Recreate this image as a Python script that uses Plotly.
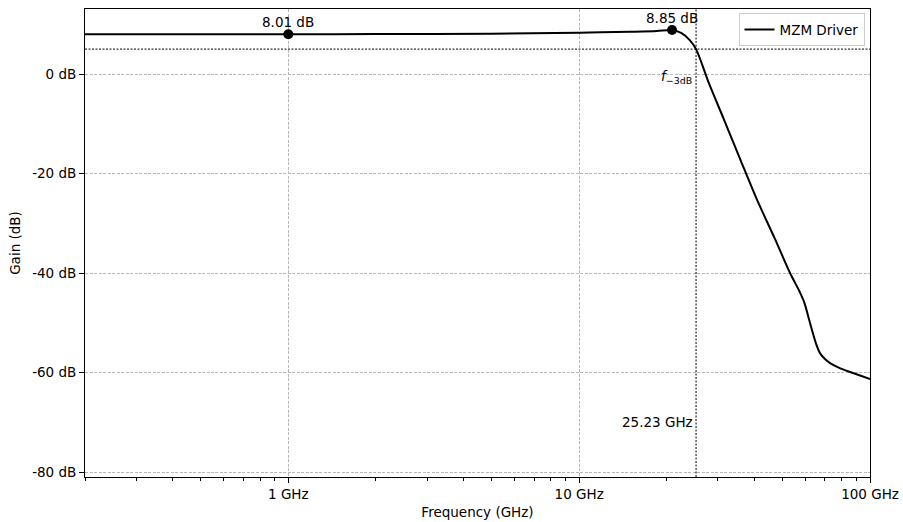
import numpy as np
import plotly.graph_objects as go

# Frequency response of MZM driver
freq_ghz = [0.2, 0.5, 1.0, 2.0, 5.0, 10.0, 15.0, 18.5, 20.87, 22.5, 24.0, 25.23, 28.0, 31.5, 36.0, 40.9, 47.0, 53.1, 57.0, 59.5, 61.5, 63.2, 65.5, 67.3, 70.0, 72.9, 78.0, 85.4, 100.0]
gain_db = [8.0, 8.0, 8.01, 8.03, 8.12, 8.3, 8.5, 8.65, 8.85, 8.2, 6.8, 5.01, -2.0, -9.2, -17.5, -25.3, -33.0, -40.0, -43.5, -46.0, -49.0, -51.5, -54.5, -56.1, -57.3, -58.1, -59.0, -59.9, -61.3]

marker_freq = [1.0, 20.87]
marker_gain = [8.01, 8.85]
marker_labels = ["8.01 dB", "8.85 dB"]

f3db = 25.23
level_3db = 5.01

x_tick_vals = [1, 10, 100]
x_tick_text = ["1 GHz", "10 GHz", "100 GHz"]
y_tick_vals = [0, -20, -40, -60, -80]
y_tick_text = ["0 dB", "-20 dB", "-40 dB", "-60 dB", "-80 dB"]

x_range = [0.2, 100.0]
y_range = [-81.0, 13.07]

FONT = "DejaVu Sans"
FS = 13.5

fig = go.Figure()

# reference lines
fig.add_trace(go.Scatter(x=x_range, y=[level_3db, level_3db], mode="lines",
                         line=dict(color="black", width=1, dash="2px,1.5px"),
                         showlegend=False, hoverinfo="skip"))
fig.add_trace(go.Scatter(x=[f3db, f3db], y=y_range, mode="lines",
                         line=dict(color="black", width=1, dash="2px,1.5px"),
                         showlegend=False, hoverinfo="skip"))

fig.add_trace(go.Scatter(x=freq_ghz, y=gain_db, mode="lines", name="MZM Driver",
                         line=dict(color="black", width=2, shape="spline", smoothing=0.8)))

fig.add_trace(go.Scatter(x=marker_freq, y=marker_gain, mode="markers",
                         marker=dict(color="black", size=10),
                         showlegend=False, hoverinfo="skip"))

annotations = []
label_y = [10.45, 11.26]
for fx, ly, txt in zip(marker_freq, label_y, marker_labels):
    annotations.append(dict(x=np.log10(fx), y=ly, text=txt, showarrow=False,
                            xanchor="center", yanchor="middle",
                            font=dict(family=FONT, size=FS, color="black")))
annotations.append(dict(x=np.log10(f3db), y=-0.6, text="<i>f</i><sub>−3dB</sub>",
                        showarrow=False, xanchor="right", yanchor="middle", xshift=-2,
                        font=dict(family=FONT, size=FS, color="black")))
annotations.append(dict(x=np.log10(f3db), y=-70.0, text="25.23 GHz",
                        showarrow=False, xanchor="right", yanchor="middle", xshift=-1,
                        font=dict(family=FONT, size=FS, color="black")))

fig.update_layout(
    width=903, height=522,
    margin=dict(l=85, r=33, t=9, b=45, autoexpand=False),
    paper_bgcolor="white", plot_bgcolor="white",
    font=dict(family=FONT, size=FS, color="black"),
    annotations=annotations,
    legend=dict(x=0.993, y=0.991, xanchor="right", yanchor="top",
                bgcolor="white", bordercolor="#cccccc", borderwidth=1,
                font=dict(family=FONT, size=FS)),
    xaxis=dict(type="log", range=[np.log10(x_range[0]), np.log10(x_range[1])],
               tickvals=x_tick_vals, ticktext=x_tick_text, automargin=False,
               showline=True, linecolor="black", linewidth=1, mirror=True,
               ticks="outside", ticklen=5, tickcolor="black",
               showgrid=True, gridcolor="#b8b8b8", gridwidth=0.8, griddash="3px,1.5px",
               zeroline=False,
               minor=dict(ticks="outside", ticklen=3, tickcolor="black", dtick="D1", showgrid=False),
               title=dict(text="Frequency (GHz)", font=dict(family=FONT, size=FS), standoff=6)),
    yaxis=dict(range=y_range, tickvals=y_tick_vals, ticktext=y_tick_text, automargin=False,
               showline=True, linecolor="black", linewidth=1, mirror=True,
               ticks="outside", ticklen=5, tickcolor="black",
               showgrid=True, gridcolor="#b8b8b8", gridwidth=0.8, griddash="3px,1.5px",
               zeroline=False,
               title=dict(text="Gain (dB)", font=dict(family=FONT, size=FS), standoff=8)),
)

fig.write_html("out.html")
